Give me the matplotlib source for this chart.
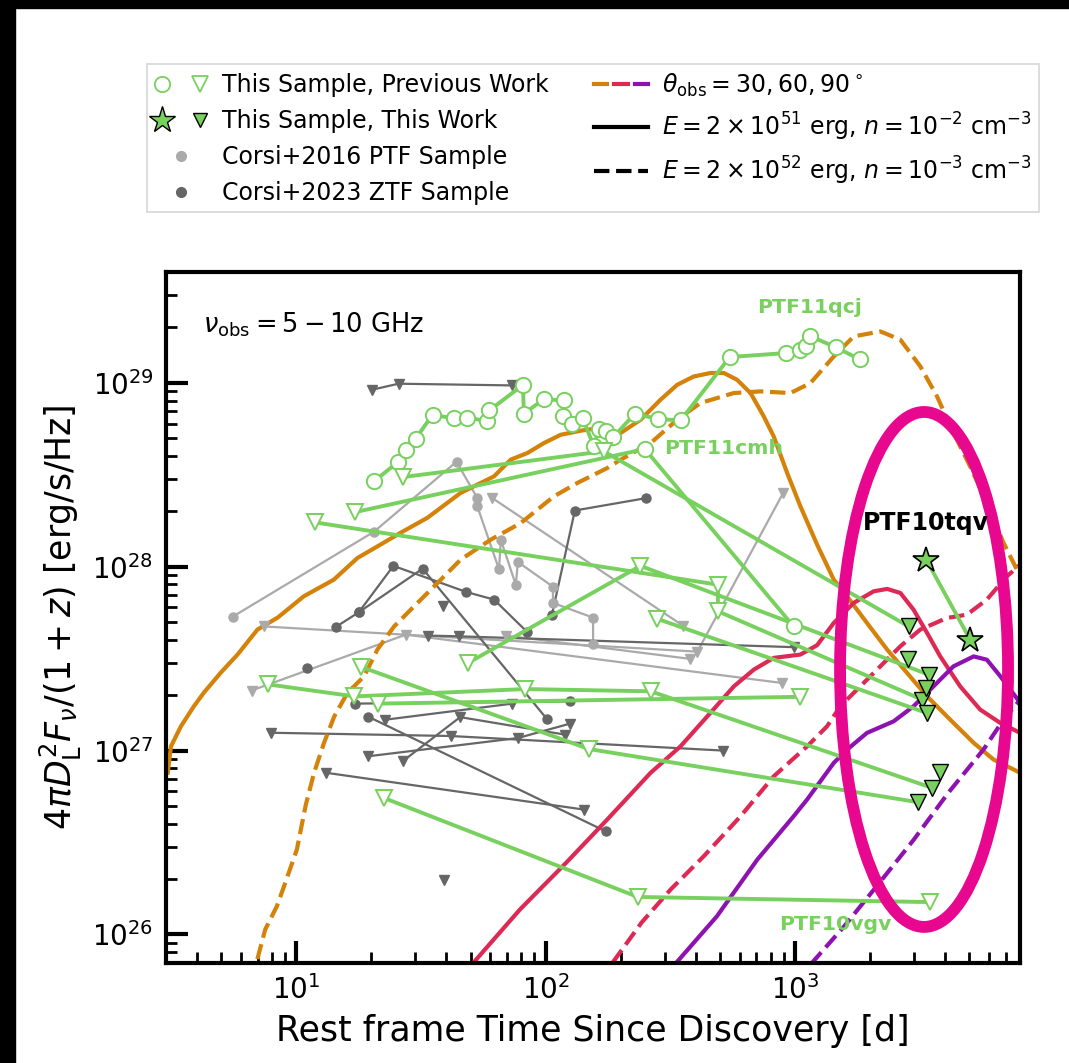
import numpy as np
import matplotlib
matplotlib.use('Agg')
import matplotlib.pyplot as plt
from matplotlib.lines import Line2D
from matplotlib.patches import Ellipse, Rectangle
from matplotlib.legend_handler import HandlerTuple

# ----------------------------------------------------------------------------------------------------------------------
#  COLOURS
# ----------------------------------------------------------------------------------------------------------------------
green      = '#78d05e'
light_gray = '#aaaaaa'
dark_gray  = '#666666'
c30, c60, c90 = '#d4820a', '#dc2a55', '#8e12b0'
magenta    = '#e8078f'

# ----------------------------------------------------------------------------------------------------------------------
#  DATA  (t = rest frame days, L = 4 pi D^2 F_nu/(1+z) in erg/s/Hz)
#  kinds: c = detection, t = upper limit (previous work), f = upper limit (this work)
# ----------------------------------------------------------------------------------------------------------------------
qcj_t = [20.5, 25.5, 27.5, 30.1, 35.2, 42.7, 48.5, 58.3, 59.4, 81.1, 81.8, 98.5, 118, 117.7, 127.9,
         141, 156, 163.5, 174, 187, 228, 282, 348, 548, 918, 1052, 1109, 1154, 1458, 1820]
qcj_L = [2.91e28, 3.70e28, 4.30e28, 4.97e28, 6.70e28, 6.40e28, 6.46e28, 6.18e28, 7.07e28, 9.73e28,
         6.79e28, 8.15e28, 8.01e28, 6.56e28, 5.93e28, 6.40e28, 4.51e28, 5.60e28, 5.48e28, 5.07e28,
         6.79e28, 6.35e28, 6.24e28, 1.38e29, 1.45e29, 1.50e29, 1.59e29, 1.79e29, 1.56e29, 1.34e29]
qcj_k = 'c' * len(qcj_t)

cmh_t = [17.2, 250, 988]
cmh_L = [1.98e28, 4.36e28, 4.73e27]
cmh_k = 'tcc'

vgv_t = [22.5, 234, 3491]
vgv_L = [5.52e26, 1.60e26, 1.50e26]
vgv_k = 'ttt'

g3_t, g3_L, g3_k = [26.8, 171, 2860], [3.07e28, 4.24e28, 4.73e27], 'ttf'
g4_t, g4_L, g4_k = [11.9, 491, 491, 3245], [1.74e28, 7.98e27, 5.72e27, 1.89e27], 'tttf'
g5_t, g5_L, g5_k = [48.9, 240, 3436], [3.00e27, 1.01e28, 2.59e27], 'ttf'
g6_t, g6_L, g6_k = [18.2, 149, 3120], [2.85e27, 1.02e27, 5.24e26], 'ttf'
g7_t, g7_L, g7_k = [7.71, 17.1, 82.6, 264, 3548], [2.29e27, 1.97e27, 2.16e27, 2.10e27, 6.27e26], 'ttttf'
g8_t, g8_L, g8_k = [21.3, 1045], [1.80e27, 1.96e27], 'tt'
g10_t, g10_L, g10_k = [281, 3388], [5.20e27, 1.60e27], 'tf'
g11_t, g11_L, g11_k = [3365], [2.20e27], 'f'
g12_t, g12_L, g12_k = [2833], [3.15e27], 'f'
g13_t, g13_L, g13_k = [3828], [7.69e26], 'f'

tqv_t = [3365, 5047]
tqv_L = [1.09e28, 4.01e27]

# Corsi+2023 ZTF sample (dark)
d1_t, d1_L, d1_k = [20.1, 25.7, 73.6], [9.16e28, 9.88e28, 9.67e28], 'ttt'
d3_t, d3_L, d3_k = [33.7, 45.0, 988], [4.22e27, 4.18e27, 3.65e27], 'ttt'
d4_t, d4_L, d4_k = [14.4, 17.8, 24.5, 48.1, 62.1, 84.5], [4.70e27, 5.65e27, 1.01e28, 7.28e27, 6.62e27, 4.40e27], 'cccccc'
d5_t, d5_L, d5_k = [17.8, 32.1, 101], [5.65e27, 9.75e27, 1.49e27], 'ccc'
d6_t, d6_L, d6_k = [17.2, 125], [1.80e27, 1.85e27], 'cc'
d7_t, d7_L, d7_k = [19.4, 174], [1.53e27, 3.64e26], 'cc'
d8_t, d8_L, d8_k = [22.6, 73.6], [1.47e27, 1.80e27], 'tt'
d9_t, d9_L, d9_k = [7.91, 41.6, 515], [1.25e27, 1.20e27, 1.00e27], 'ttt'
d10_t, d10_L, d10_k = [19.4, 77.4, 125], [9.31e26, 1.17e27, 1.40e27], 'ttt'
d11_t, d11_L, d11_k = [26.7, 45.4, 120], [8.75e26, 1.52e27, 1.22e27], 'ttt'
d12_t, d12_L, d12_k = [13.2, 142], [7.57e26, 4.78e26], 'tt'
d14_t, d14_L, d14_k = [106, 131, 253.5], [5.48e27, 2.02e28, 2.36e28], 'ccc'
d15_t, d15_L, d15_k = [11.0], [2.81e27], 'c'
d16_t, d16_L, d16_k = [39.2], [1.99e26], 't'
d17_t, d17_L, d17_k = [38.9], [6.08e27], 't'

# Corsi+2016 PTF sample (light)
l1_t = [5.56, 20.5, 43.9, 53.2, 53.2, 65.0, 66.1, 75.9, 77.4, 107, 107, 155, 155]
l1_L = [5.35e27, 1.55e28, 3.72e28, 2.36e28, 2.13e28, 9.68e27, 1.40e28, 7.98e27, 1.06e28,
        7.78e27, 6.35e27, 5.28e27, 3.81e27]
l1_k = 'c' * len(l1_t)
l2_t, l2_L, l2_k = [6.61, 27.5, 889], [2.12e27, 4.27e27, 2.33e27], 'ttt'
l3_t, l3_L, l3_k = [7.43, 406, 898], [4.73e27, 3.45e27, 2.52e28], 'ttt'
l4_t, l4_L, l4_k = [61.1, 356], [2.36e28, 4.77e27], 'tt'
l5_t, l5_L, l5_k = [69.2, 381], [4.22e27, 3.15e27], 'tt'

# off-axis jet models, log10(t) and log10(L); solid: E=2e51, n=1e-2 ; dashed: E=2e52, n=1e-3
th30_s_lt = [0.484, 0.497, 0.537, 0.589, 0.629, 0.697, 0.764, 0.844, 0.925, 1.030, 1.150, 1.245, 1.325, 1.419,
             1.526, 1.659, 1.793, 1.860, 1.927, 1.993, 2.060, 2.140, 2.220, 2.301, 2.381, 2.461, 2.528, 2.594,
             2.661, 2.715, 2.768, 2.822, 2.875, 2.915, 2.969, 3.022, 3.089, 3.156, 3.209, 3.289, 3.370, 3.450,
             3.530, 3.623, 3.717, 3.797, 3.904]
th30_s_lL = [26.880, 27.023, 27.132, 27.241, 27.315, 27.424, 27.522, 27.658, 27.723, 27.839, 27.929, 28.047,
             28.110, 28.185, 28.266, 28.401, 28.491, 28.582, 28.618, 28.672, 28.717, 28.739, 28.755, 28.727,
             28.799, 28.908, 28.989, 29.034, 29.053, 29.053, 29.016, 28.944, 28.817, 28.708, 28.509, 28.328,
             28.120, 27.929, 27.839, 27.694, 27.549, 27.422, 27.295, 27.168, 27.042, 26.951, 26.879]
th30_d_lt = [0.821, 0.875, 0.922, 0.956, 1.002, 1.038, 1.071, 1.111, 1.152, 1.205, 1.272, 1.325, 1.392, 1.472,
             1.566, 1.659, 1.780, 1.900, 2.033, 2.127, 2.247, 2.301, 2.421, 2.528, 2.621, 2.755, 2.862, 2.982,
             3.062, 3.156, 3.236, 3.343, 3.423, 3.503, 3.570, 3.636, 3.703, 3.770, 3.837, 3.904]
th30_d_lL = [25.750, 26.027, 26.154, 26.283, 26.462, 26.706, 26.879, 27.042, 27.186, 27.314, 27.404, 27.549,
             27.675, 27.784, 27.911, 28.038, 28.147, 28.237, 28.382, 28.455, 28.536, 28.582, 28.672, 28.799,
             28.890, 28.944, 28.953, 28.944, 28.998, 29.143, 29.252, 29.279, 29.234, 29.089, 28.926, 28.727,
             28.545, 28.346, 28.129, 27.947]
th60_s_lt = [1.648, 1.897, 2.083, 2.247, 2.421, 2.541, 2.661, 2.755, 2.835, 2.915, 3.022, 3.089, 3.156, 3.236,
             3.316, 3.370, 3.423, 3.476, 3.530, 3.583, 3.663, 3.743, 3.824, 3.904]
th60_s_lL = [25.750, 26.136, 26.391, 26.625, 26.879, 27.023, 27.205, 27.349, 27.440, 27.504, 27.522, 27.573,
             27.694, 27.803, 27.866, 27.879, 27.857, 27.766, 27.640, 27.512, 27.349, 27.223, 27.150, 27.096]
th60_d_lt = [2.217, 2.385, 2.501, 2.634, 2.782, 2.915, 3.049, 3.129, 3.182, 3.316, 3.423, 3.503, 3.610, 3.690,
             3.770, 3.850, 3.904]
th60_d_lL = [25.750, 26.065, 26.244, 26.425, 26.643, 26.860, 27.023, 27.132, 27.241, 27.422, 27.567, 27.658,
             27.721, 27.739, 27.821, 27.947, 28.011]
th90_s_lt = [2.462, 2.687, 2.849, 2.995, 3.049, 3.156, 3.209, 3.289, 3.396, 3.476, 3.556, 3.636, 3.717, 3.770,
             3.824, 3.904]
th90_s_lL = [25.750, 26.099, 26.407, 26.643, 26.734, 26.933, 27.005, 27.096, 27.159, 27.241, 27.349, 27.458,
             27.512, 27.494, 27.404, 27.259]
th90_d_lt = [3.006, 3.198, 3.339, 3.477, 3.615, 3.756, 3.837, 3.904]
th90_d_lL = [25.750, 26.045, 26.281, 26.516, 26.770, 27.005, 27.168, 27.277]

# ----------------------------------------------------------------------------------------------------------------------
#  PLOT
# ----------------------------------------------------------------------------------------------------------------------
fig = plt.figure(figsize=(10.69, 10.63), dpi=100)
ax = fig.add_axes([0.1553, 0.0941, 0.7989, 0.6500])

# black strips of the original screenshot
fig.patches.append(Rectangle((0, 1 - 8 / 1063), 1, 8 / 1063, transform=fig.transFigure, color='black', zorder=0))
fig.patches.append(Rectangle((0, 0), 15 / 1069, 1, transform=fig.transFigure, color='black', zorder=0))


def draw_series(t, L, kinds, color, lw, ms, zl=3):
    t = np.asarray(t, float)
    L = np.asarray(L, float)
    k = np.array(list(kinds))
    if len(t) > 1:
        ax.plot(t, L, '-', color=color, lw=lw, zorder=zl)
    if color == green:
        m = k == 'c'
        ax.plot(t[m], L[m], 'o', ls='', ms=ms, mfc='white', mec=green, mew=1.4, zorder=zl + 1)
        m = k == 't'
        ax.plot(t[m], L[m], 'v', ls='', ms=ms + 1, mfc='white', mec=green, mew=1.4, zorder=zl + 1)
        m = k == 'f'
        ax.plot(t[m], L[m], 'v', ls='', ms=ms, mfc=green, mec='black', mew=1.0, zorder=8)
    else:
        m = k == 'c'
        ax.plot(t[m], L[m], 'o', ls='', ms=ms, color=color, zorder=zl + 1)
        m = k == 't'
        ax.plot(t[m], L[m], 'v', ls='', ms=ms, color=color, zorder=zl + 1)


# models
for lt, lL, col, ls in [(th30_s_lt, th30_s_lL, c30, '-'), (th30_d_lt, th30_d_lL, c30, '--'),
                        (th60_s_lt, th60_s_lL, c60, '-'), (th60_d_lt, th60_d_lL, c60, '--'),
                        (th90_s_lt, th90_s_lL, c90, '-'), (th90_d_lt, th90_d_lL, c90, '--')]:
    ax.plot(10 ** np.array(lt), 10 ** np.array(lL), ls=ls, color=col, lw=3, zorder=2)

# Corsi samples
for t, L, k in [(l1_t, l1_L, l1_k), (l2_t, l2_L, l2_k), (l3_t, l3_L, l3_k), (l4_t, l4_L, l4_k),
                (l5_t, l5_L, l5_k)]:
    draw_series(t, L, k, light_gray, 1.6, 6.5, zl=1)
for t, L, k in [(d1_t, d1_L, d1_k), (d3_t, d3_L, d3_k), (d4_t, d4_L, d4_k), (d5_t, d5_L, d5_k),
                (d6_t, d6_L, d6_k), (d7_t, d7_L, d7_k), (d8_t, d8_L, d8_k), (d9_t, d9_L, d9_k),
                (d10_t, d10_L, d10_k), (d11_t, d11_L, d11_k), (d12_t, d12_L, d12_k),
                (d14_t, d14_L, d14_k), (d15_t, d15_L, d15_k), (d16_t, d16_L, d16_k), (d17_t, d17_L, d17_k)]:
    draw_series(t, L, k, dark_gray, 1.6, 6.5, zl=1)

# this sample
for t, L, k in [(qcj_t, qcj_L, qcj_k), (cmh_t, cmh_L, cmh_k), (vgv_t, vgv_L, vgv_k), (g3_t, g3_L, g3_k),
                (g4_t, g4_L, g4_k), (g5_t, g5_L, g5_k), (g6_t, g6_L, g6_k), (g7_t, g7_L, g7_k),
                (g8_t, g8_L, g8_k), (g10_t, g10_L, g10_k), (g11_t, g11_L, g11_k), (g12_t, g12_L, g12_k),
                (g13_t, g13_L, g13_k)]:
    draw_series(t, L, k, green, 2.8, 11, zl=3)
ax.plot(tqv_t, tqv_L, '-', color=green, lw=2.8, zorder=3)
ax.plot(tqv_t, tqv_L, '*', ls='', ms=19, mfc=green, mec='black', mew=1.2, zorder=9)

# highlight
ax.add_patch(Ellipse((0.8876, 0.4248), 0.1967, 0.7453, transform=ax.transAxes, fill=False,
                     edgecolor=magenta, lw=8.5, zorder=7))

# labels
ax.text(0.043, 0.923, r'$\nu_{\rm obs} = 5-10$ GHz', transform=ax.transAxes, fontsize=18.5, ha='left', va='center')
ax.text(0.754, 0.949, 'PTF11qcj', transform=ax.transAxes, fontsize=14.7, color=green, fontweight='bold',
        ha='center', va='center')
ax.text(0.653, 0.745, 'PTF11cmh', transform=ax.transAxes, fontsize=14.7, color=green, fontweight='bold',
        ha='center', va='center')
ax.text(0.784, 0.0557, 'PTF10vgv', transform=ax.transAxes, fontsize=14.7, color=green, fontweight='bold',
        ha='center', va='center')
ax.text(0.890, 0.637, 'PTF10tqv', transform=ax.transAxes, fontsize=17, color='black', fontweight='bold',
        ha='center', va='center', zorder=10)

ax.set_xscale('log')
ax.set_yscale('log')
ax.set_xlim(3, 8000)
ax.set_ylim(7e25, 4e29)
ax.set_xlabel('Rest frame Time Since Discovery [d]', fontsize=25, labelpad=6)
ax.set_ylabel(r'$4\pi D_{\rm L}^2 F_\nu/(1+z)$ [erg/s/Hz]', fontsize=25, labelpad=6)
ax.tick_params(which='major', direction='in', length=16, width=3, labelsize=20, pad=9, top=False, right=False)
ax.tick_params(which='minor', direction='in', length=8, width=2, top=False, right=False)
for s in ax.spines.values():
    s.set_linewidth(3)

# legend
h_prev = (Line2D([], [], ls='', marker='o', ms=11, mfc='white', mec=green, mew=1.3),
          Line2D([], [], ls='', marker='v', ms=11, mfc='white', mec=green, mew=1.3))
h_this = (Line2D([], [], ls='', marker='*', ms=20, mfc=green, mec='black', mew=1.0),
          Line2D([], [], ls='', marker='v', ms=10, mfc=green, mec='black', mew=1.0))
h_c16 = Line2D([], [], ls='', marker='o', ms=7, color=light_gray)
h_c23 = Line2D([], [], ls='', marker='o', ms=7, color=dark_gray)
h_th = (Line2D([], [], color=c30, lw=3), Line2D([], [], color=c60, lw=3), Line2D([], [], color=c90, lw=3))
h_e51 = Line2D([], [], color='black', lw=3)
h_e52 = Line2D([], [], color='black', lw=3, ls='--')
labels = ['This Sample, Previous Work', 'This Sample, This Work', 'Corsi+2016 PTF Sample', 'Corsi+2023 ZTF Sample',
          r'$\theta_{\rm obs} = 30, 60, 90^\circ$',
          r'$E = 2\times10^{51}$ erg, $n = 10^{-2}$ cm$^{-3}$',
          r'$E = 2\times10^{52}$ erg, $n = 10^{-3}$ cm$^{-3}$']
leg = ax.legend([h_prev, h_this, h_c16, h_c23, h_th, h_e51, h_e52], labels,
                handler_map={h_prev: HandlerTuple(ndivide=None, pad=0.9),
                             h_this: HandlerTuple(ndivide=None, pad=0.9),
                             h_th: HandlerTuple(ndivide=None, pad=0.3)},
                loc='lower center', bbox_to_anchor=(0.5, 1.087), borderaxespad=0, ncol=2, fontsize=17,
                fancybox=False, edgecolor='#cccccc', handlelength=2.3, labelspacing=0.5,
                columnspacing=1.9, borderpad=0.3, handletextpad=0.6)
leg.get_frame().set_linewidth(1.2)

fig.savefig('out.png', dpi=100)
